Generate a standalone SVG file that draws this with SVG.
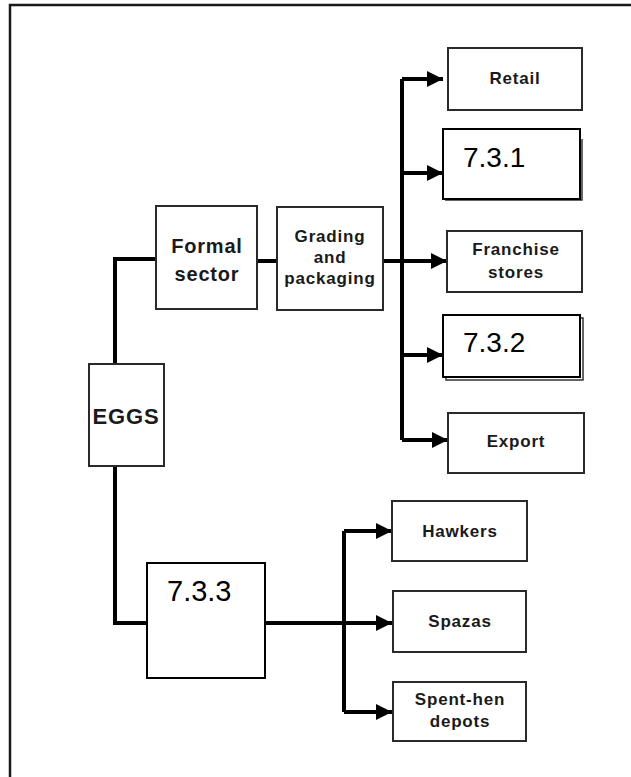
<svg xmlns="http://www.w3.org/2000/svg" width="631" height="777" viewBox="0 0 631 777">
<style>
.box{fill:#fff;stroke:#2a2a2a;stroke-width:2}
.nbox{fill:#fff;stroke:#000;stroke-width:2}
.lbl{font-family:"Liberation Sans",Arial,sans-serif;font-weight:bold;fill:#1a1a1a;text-anchor:middle;font-size:17px;letter-spacing:0.8px}
.num{font-family:"Liberation Sans",Arial,sans-serif;fill:#000;font-size:28px}
.conn{fill:none;stroke:#000;stroke-width:4}
</style>
<defs>
<marker id="ah" markerWidth="18" markerHeight="18" refX="16" refY="9" orient="auto" markerUnits="userSpaceOnUse">
<path d="M0,1 L16,9 L0,17 Z" fill="#000"/>
</marker>
</defs>
<rect width="631" height="777" fill="#fff"/>
<path d="M10,777 L10,5 L631,5" fill="none" stroke="#1a1a1a" stroke-width="2.5"/>

<g id="connectors">
<path class="conn" d="M156,259 H115 V364"/>
<path class="conn" d="M115,466 V623 H147"/>
<path class="conn" d="M257,261 H277"/>
<path class="conn" d="M383,261 H402"/>
<path class="conn" d="M402,79 V440"/>
<path class="conn" d="M402,79 H443" marker-end="url(#ah)"/>
<path class="conn" d="M402,173 H443" marker-end="url(#ah)"/>
<path class="conn" d="M402,261 H447" marker-end="url(#ah)"/>
<path class="conn" d="M402,355 H443" marker-end="url(#ah)"/>
<path class="conn" d="M402,440 H448" marker-end="url(#ah)"/>
<path class="conn" d="M265,623 H392" marker-end="url(#ah)"/>
<path class="conn" d="M344,531 V712"/>
<path class="conn" d="M344,531 H392" marker-end="url(#ah)"/>
<path class="conn" d="M344,712 H392" marker-end="url(#ah)"/>
</g>

<g id="eggs">
<rect class="box" x="89" y="364" width="75" height="102"/>
<text class="lbl" x="126" y="424" style="font-size:22px">EGGS</text>
</g>
<g id="formal-sector">
<rect class="box" x="156" y="206" width="101" height="103"/>
<text class="lbl" x="207" y="253" style="font-size:20px">Formal</text>
<text class="lbl" x="207" y="281" style="font-size:20px">sector</text>
</g>
<g id="grading">
<rect class="box" x="277" y="207" width="106" height="103"/>
<text class="lbl" x="330" y="242">Grading</text>
<text class="lbl" x="330" y="263">and</text>
<text class="lbl" x="330" y="284">packaging</text>
</g>
<g id="retail">
<rect class="box" x="448" y="48" width="134" height="62"/>
<text class="lbl" x="515" y="84">Retail</text>
</g>
<g id="n731">
<path d="M582,139 V200 H445" fill="none" stroke="#333" stroke-width="1.5"/>
<rect class="nbox" x="443" y="129" width="137" height="70"/>
<text class="num" x="463" y="167">7.3.1</text>
</g>
<g id="franchise">
<rect class="box" x="447" y="231" width="135" height="61"/>
<text class="lbl" x="516" y="255">Franchise</text>
<text class="lbl" x="516" y="278">stores</text>
</g>
<g id="n732">
<rect x="446" y="318" width="137" height="62" fill="#fff" stroke="#333" stroke-width="1.5"/>
<rect class="nbox" x="443" y="315" width="137" height="62"/>
<text class="num" x="463" y="352">7.3.2</text>
</g>
<g id="export">
<rect class="box" x="448" y="413" width="136" height="60"/>
<text class="lbl" x="516" y="447">Export</text>
</g>
<g id="n733">
<rect class="nbox" x="147" y="563" width="118" height="115"/>
<text class="num" x="167" y="601" style="font-size:29px">7.3.3</text>
</g>
<g id="hawkers">
<rect class="box" x="392" y="501" width="135" height="60"/>
<text class="lbl" x="460" y="537">Hawkers</text>
</g>
<g id="spazas">
<rect class="box" x="393" y="591" width="133" height="61"/>
<text class="lbl" x="460" y="627">Spazas</text>
</g>
<g id="spent-hen">
<rect class="box" x="393" y="682" width="133" height="59"/>
<text class="lbl" x="460" y="705">Spent-hen</text>
<text class="lbl" x="460" y="727">depots</text>
</g>
</svg>
